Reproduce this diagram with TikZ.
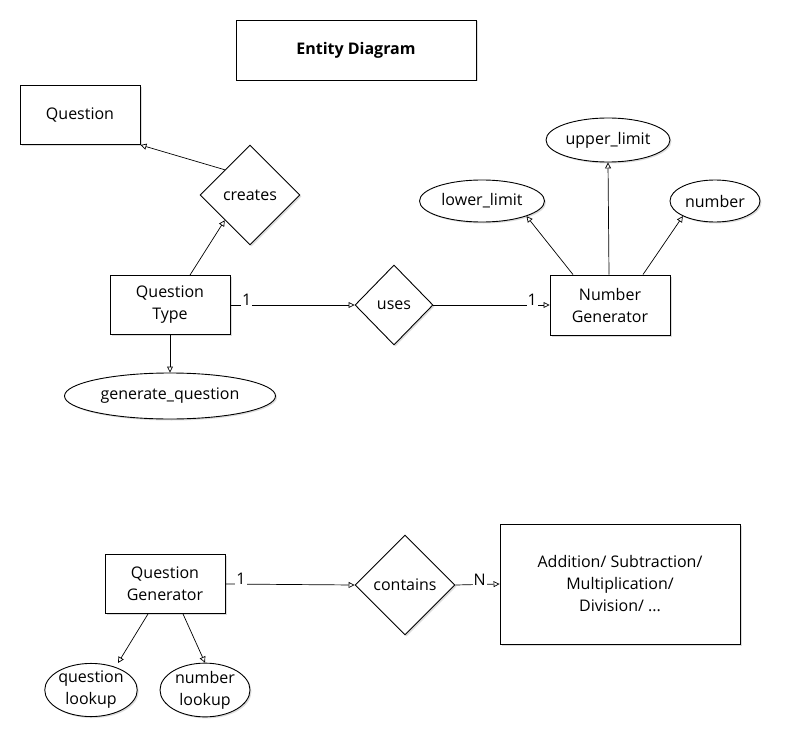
\documentclass[tikz,border=0pt]{standalone}
\usepackage{fontspec}
\setmainfont{Open Sans}
\usetikzlibrary{shapes.geometric,arrows.meta,shadows}
\begin{document}
\begin{tikzpicture}[x=1pt,y=-1pt,
  font=\fontsize{16}{22}\selectfont,
  shad/.style={drop shadow={shadow xshift=1.5pt,shadow yshift=-1.5pt,opacity=0.3,fill=black!45}},
  ent/.style={draw,line width=0.9pt,fill=white,shad,align=center,inner sep=0pt},
  rel/.style={draw,diamond,line width=0.9pt,fill=white,shad,inner sep=0pt},
  att/.style={draw,ellipse,line width=0.9pt,fill=white,shad,inner sep=0pt,align=center},
  conn/.style={line width=0.7pt,-{Triangle[open,length=6pt,width=6pt]}},
  card/.style={fill=white,inner sep=1pt}]
\useasboundingbox (0,0) rectangle (787,741);
% top part
\node[ent,minimum width=240pt,minimum height=60pt,font=\fontsize{16}{22}\selectfont\bfseries] (title) at (356,50) {Entity Diagram};
\node[ent,minimum width=120pt,minimum height=59pt] (question) at (80,115) {Question};
\node[rel,minimum width=100pt,minimum height=100pt] (creates) at (250,195) {creates};
\node[ent,minimum width=120pt,minimum height=59pt] (qtype) at (170,305) {Question\\Type};
\node[att,minimum width=211pt,minimum height=46pt] (genq) at (170,396) {generate\_question};
\node[rel,minimum width=78pt,minimum height=80pt] (uses) at (394,305) {uses};
\node[ent,minimum width=120pt,minimum height=60pt] (numgen) at (610,305) {Number\\Generator};
\node[att,minimum width=124pt,minimum height=44pt] (upper) at (608,140) {upper\_limit};
\node[att,minimum width=125pt,minimum height=42pt] (lower) at (482,201) {lower\_limit};
\node[att,minimum width=90pt,minimum height=42pt] (number) at (715,201) {number};
% top connectors
\draw[conn] ([xshift=20pt]qtype.north) -- (creates.south west);
\draw[conn] (creates.north west) -- (question.south east);
\draw[conn] (qtype.south) -- (genq.north);
\draw[conn] (qtype.east) -- node[card,pos=0.13,above=-2pt]{1} (uses.west);
\draw[conn] (uses.east) -- node[card,pos=0.85,above=-2pt]{1} (numgen.west);
\draw[conn] ([xshift=-37pt]numgen.north) -- (lower.south east);
\draw[conn] ([xshift=-1pt]numgen.north) -- (upper.south);
\draw[conn] ([xshift=33pt]numgen.north) -- (number.south west);
% bottom part
\node[ent,minimum width=120pt,minimum height=59pt] (qgen) at (165,584) {Question\\Generator};
\node[rel,minimum width=100pt,minimum height=100pt] (contains) at (405,585) {contains};
\node[ent,minimum width=240pt,minimum height=120pt] (ops) at (620,584) {Addition/ Subtraction/\\Multiplication/\\Division/ ...};
\node[att,minimum width=88pt,minimum height=50pt] (qlook) at (91,690) {question\\lookup};
\node[att,minimum width=90pt,minimum height=50pt] (nlook) at (205,690) {number\\lookup};
\draw[conn] ([xshift=-17pt]qgen.south) -- ([xshift=27pt]qlook.north);
\draw[conn] ([xshift=18pt]qgen.south) -- (nlook.north);
\draw[conn] (qgen.east) -- node[card,pos=0.12,above=-2pt]{1} (contains.west);
\draw[conn] (contains.east) -- node[card,pos=0.55,above=-2pt]{N} (ops.west);
\end{tikzpicture}
\end{document}
